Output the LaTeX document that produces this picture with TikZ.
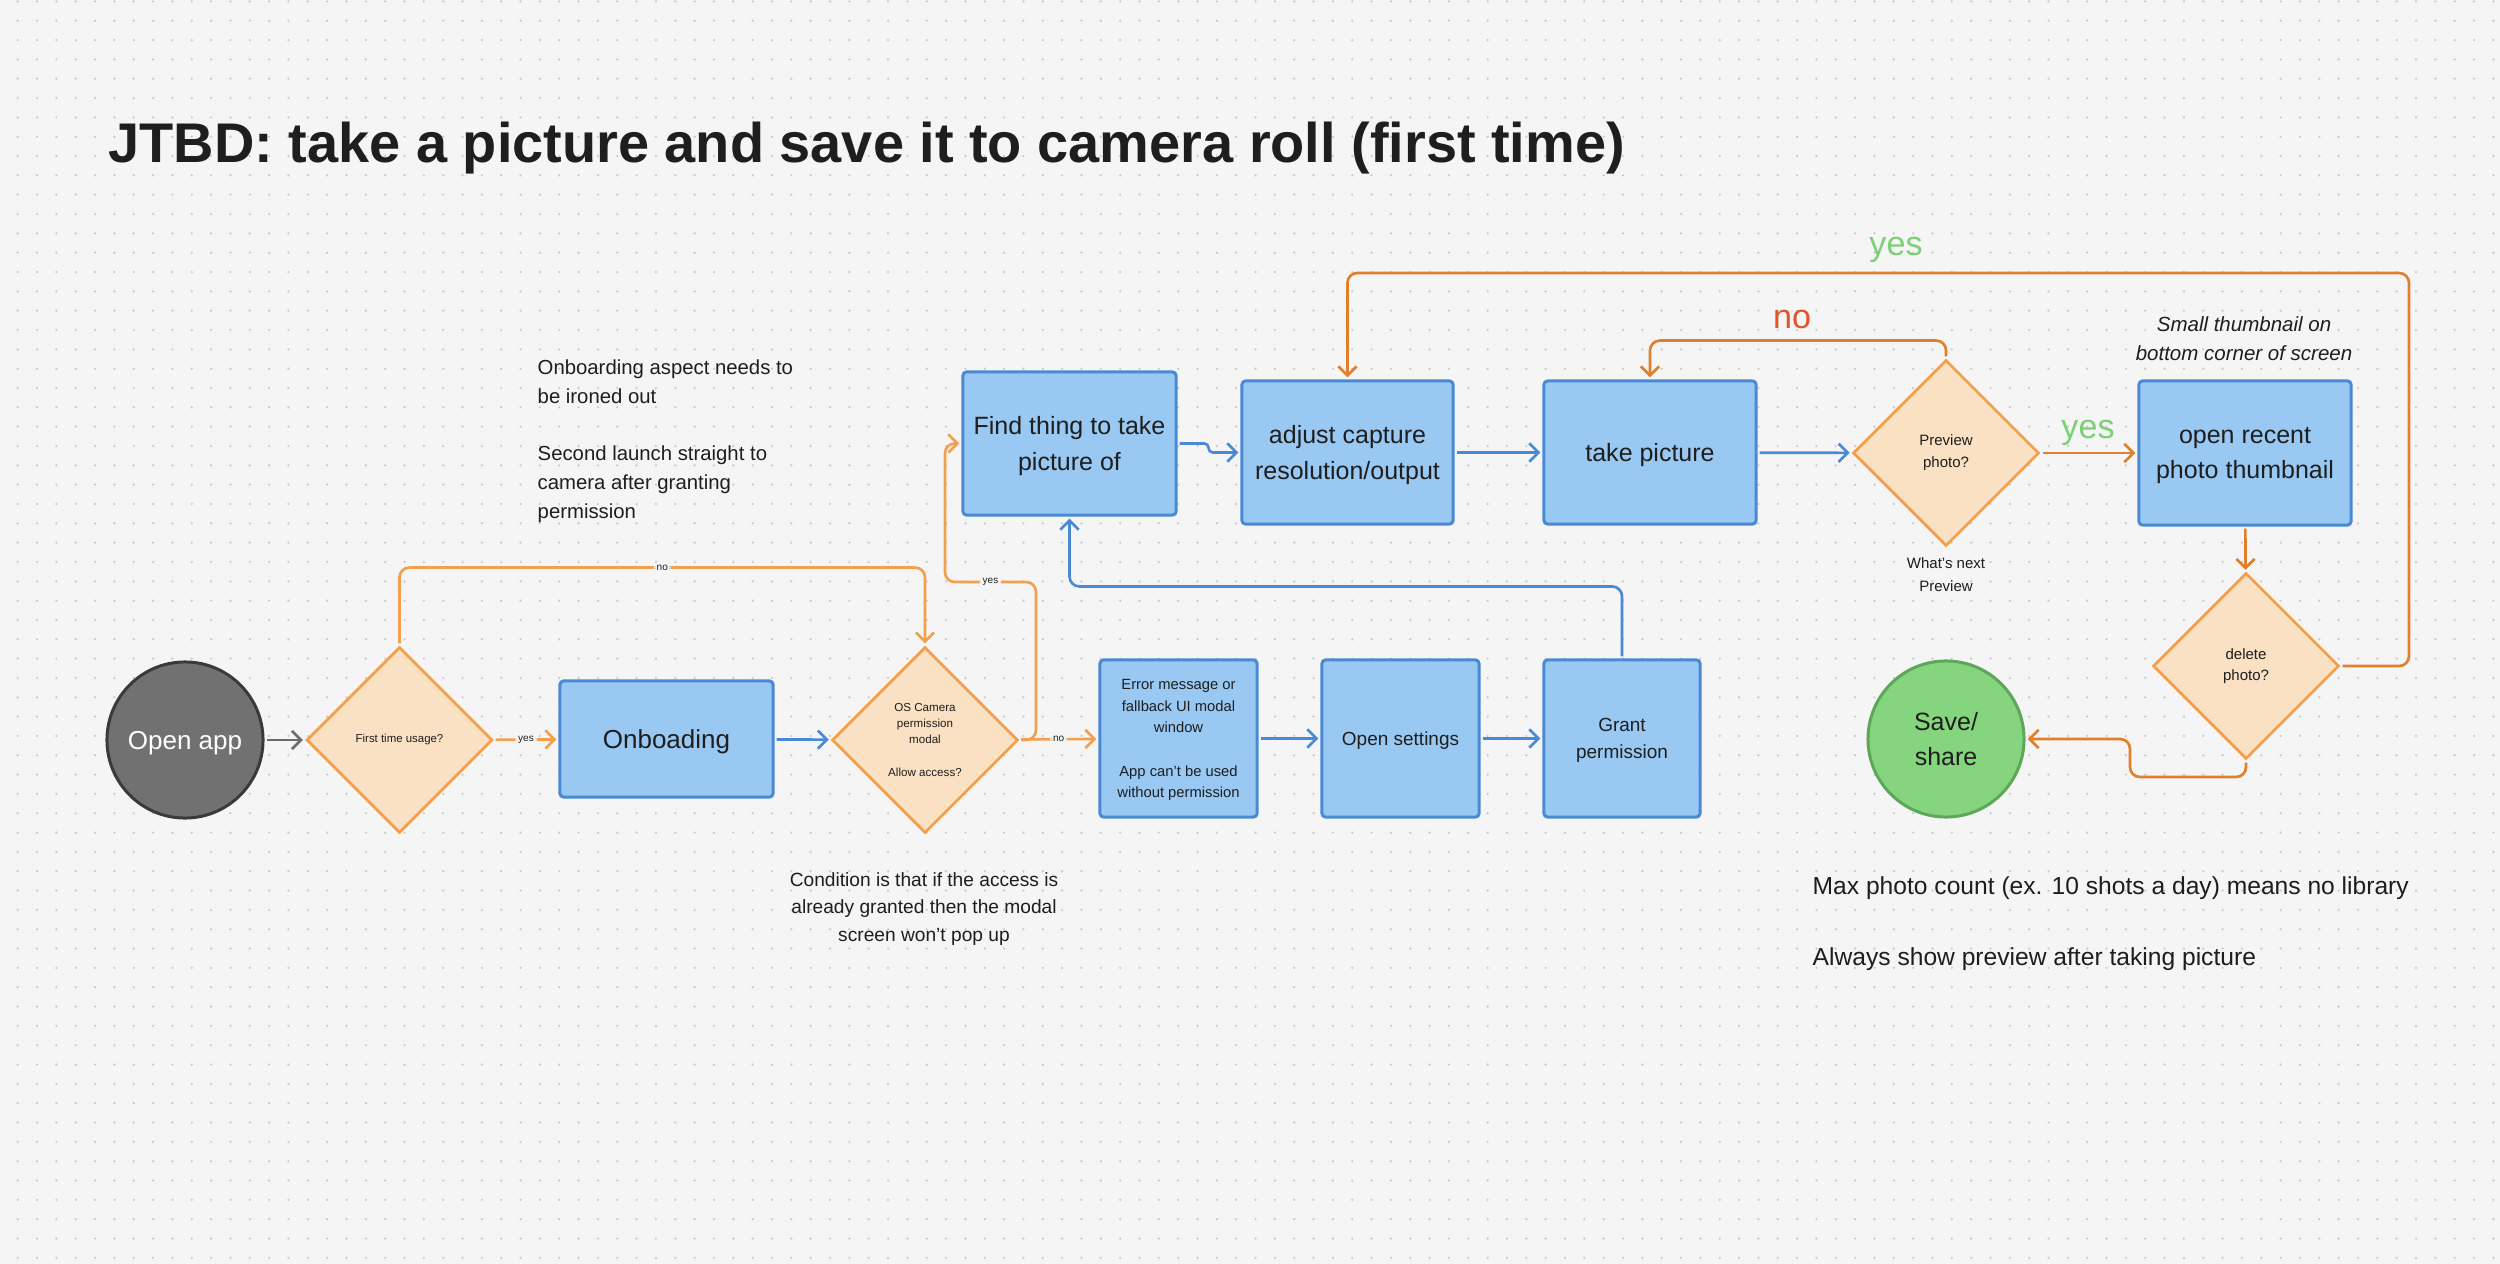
\documentclass[tikz,border=0pt]{standalone}
\usepackage{fontspec}
\setmainfont{Liberation Sans}
\usetikzlibrary{shapes.geometric,arrows.meta}
\definecolor{bg}{HTML}{F5F5F5}
\definecolor{dotc}{HTML}{C9C9C9}
\definecolor{txt}{HTML}{1E1E1E}
\definecolor{boxfill}{HTML}{99C9F3}
\definecolor{boxline}{HTML}{4A8AD4}
\definecolor{dfill}{HTML}{FBE1C4}
\definecolor{dline}{HTML}{F2A04E}
\definecolor{oL}{HTML}{F2A04E}
\definecolor{oD}{HTML}{E07F2C}
\definecolor{nored}{HTML}{E0552B}
\definecolor{yesgreen}{HTML}{7DCF78}
\definecolor{savefill}{HTML}{85D47E}
\definecolor{saveline}{HTML}{5EA659}
\definecolor{appfill}{HTML}{717171}
\definecolor{appline}{HTML}{3A3A3A}
\definecolor{gline}{HTML}{6B6B6B}
\tikzset{
  bluebox/.style={rectangle, draw=boxline, fill=boxfill, line width=0.85pt, rounded corners=1pt, align=center, inner sep=0pt, text=txt, text depth=0pt},
  decision/.style={diamond, aspect=1, draw=dline, fill=dfill, line width=0.8pt, minimum width=1.86cm, minimum height=1.86cm, inner sep=0pt, align=center, text=txt},
  conn/.style={line width=0.75pt, -{Straight Barb[length=2.6pt,width=5.2pt]}, rounded corners=2.8pt, shorten >=0.6pt, shorten <=0.6pt},
  smalllab/.style={fill=bg, inner sep=0.8pt, text=txt, font=\fontsize{2.85pt}{3.4pt}\selectfont},
  biglab/.style={inner sep=0pt, font=\fontsize{9.7pt}{11pt}\selectfont},
  note/.style={inner sep=0pt, text=txt},
  bigtext/.style={font=\fontsize{7.11pt}{10.1pt}\selectfont}
}
\begin{document}
\begin{tikzpicture}[x=0.01cm,y=-0.01cm]
\useasboundingbox (0,0) rectangle (2500,1264);
\fill[bg] (0,0) rectangle (2500,1264);
\foreach \r in {0,...,65} {
  \draw[dotc, line width=0.7pt, line cap=round, dash pattern=on 0pt off 0.1933cm] (17.7,{1.4+\r*19.33}) -- (2500,{1.4+\r*19.33});
}
% title
\node[anchor=base west, inner sep=0pt, text=txt, font=\fontsize{15.9pt}{18pt}\selectfont\bfseries] (title) at (108,163) {JTBD: take a picture and save it to camera roll (first time)};
% notes
\node[note, anchor=west, align=left, font=\fontsize{5.78pt}{8.25pt}\selectfont] (n1) at (537,381.5) {Onboarding aspect needs to\\be ironed out};
\node[note, anchor=west, align=left, font=\fontsize{5.78pt}{8.25pt}\selectfont] (n2) at (537,484) {Second launch straight to\\camera after granting\\permission};
\node[note, align=center, font=\fontsize{5.45pt}{7.7pt}\selectfont] (n3) at (924,909) {Condition is that if the access is\\already granted then the modal\\screen won’t pop up};
\node[note, align=center, font=\fontsize{4.27pt}{6.5pt}\selectfont] (n4) at (1946,574.5) {What’s next\\Preview};
\node[note, align=center, font=\fontsize{5.83pt}{8.25pt}\selectfont\itshape] (n5) at (2244,338.5) {Small thumbnail on\\bottom corner of screen};
\node[note, anchor=west, font=\fontsize{7.0pt}{8pt}\selectfont] (n6) at (1812,888) {Max photo count (ex. 10 shots a day) means no library};
\node[note, anchor=west, font=\fontsize{7.0pt}{8pt}\selectfont] (n7) at (1812,959) {Always show preview after taking picture};
% nodes
\node[circle, draw=appline, fill=appfill, line width=0.85pt, minimum size=1.56cm, inner sep=0pt, text=white, text depth=0pt, font=\fontsize{7.4pt}{9pt}\selectfont] (openapp) at (185,740) {Open app};
\node[decision, font=\fontsize{3.25pt}{4.5pt}\selectfont] (q1) at (399.5,740) {First time usage?};
\node[bluebox, minimum width=2.13cm, minimum height=1.16cm, font=\fontsize{7.4pt}{9pt}\selectfont] (onb) at (666.5,739) {Onboading};
\node[decision, font=\fontsize{3.3pt}{4.64pt}\selectfont] (q2) at (925,740) {OS Camera\\permission\\modal\\[4.64pt]Allow access?};
\node[bluebox, bigtext, minimum width=2.13cm, minimum height=1.43cm] (find) at (1069.5,443.5) {Find thing to take\\picture of};
\node[bluebox, bigtext, minimum width=2.11cm, minimum height=1.43cm] (adjust) at (1347.5,452.5) {adjust capture\\resolution/output};
\node[bluebox, bigtext, minimum width=2.12cm, minimum height=1.43cm] (take) at (1650,452.5) {take picture};
\node[decision, font=\fontsize{4.27pt}{6.26pt}\selectfont] (preview) at (1946,453) {Preview\\photo?};
\node[bluebox, bigtext, minimum width=2.12cm, minimum height=1.44cm] (recent) at (2245,453) {open recent\\photo thumbnail};
\node[decision, font=\fontsize{4.27pt}{6.0pt}\selectfont] (delete) at (2246,666) {delete\\photo?};
\node[circle, draw=saveline, fill=savefill, line width=0.85pt, minimum size=1.56cm, inner sep=0pt, align=center, text=txt, font=\fontsize{7.11pt}{10.2pt}\selectfont] (save) at (1946,739) {Save/\\share};
\node[bluebox, minimum width=1.57cm, minimum height=1.57cm, font=\fontsize{4.2pt}{6.17pt}\selectfont] (error) at (1178.5,738.5) {Error message or\\fallback UI modal\\window\\[6.17pt]App can’t be used\\without permission};
\node[bluebox, minimum width=1.57cm, minimum height=1.57cm, font=\fontsize{5.4pt}{7.7pt}\selectfont] (settings) at (1400.5,738.5) {Open settings};
\node[bluebox, minimum width=1.56cm, minimum height=1.57cm, font=\fontsize{5.4pt}{7.7pt}\selectfont] (grant) at (1622,738.5) {Grant\\permission};
% helper coordinates
\coordinate (y1) at (1036,582);
\coordinate (y2) at (945,582);
\coordinate (c1) at (2409,273);
\coordinate (c2) at (2130,777);
% connectors
\draw[conn, gline] (openapp) -- (q1);
\draw[conn, oL] (q1) -- node[smalllab]{yes} (onb);
\draw[conn, oL] (q1.north) -- ++(0,-78) -| node[smalllab, pos=0.25]{no} (q2.north);
\draw[conn, boxline] (onb) -- (q2);
\draw[conn, oL] (q2.east) -| (y1) -- node[smalllab]{yes} (y2) |- (find.west);
\draw[conn, oL] (q2) -- node[smalllab]{no} (error);
\draw[conn, boxline] (error) -- (settings);
\draw[conn, boxline] (settings) -- (grant);
\draw[conn, boxline] (grant.north) -- ++(0,-72) -| (find.south);
\draw[conn, boxline, rounded corners=1.2pt] (find.east) -- ++(31,0) |- (adjust.west);
\draw[conn, boxline] (adjust) -- (take);
\draw[conn, boxline] (take) -- (preview);
\draw[conn, oD] (preview.north) -- ++(0,-18) -| (take.north);
\draw[conn, oD] (preview) -- (recent);
\draw[conn, oD] (recent) -- (delete);
\draw[conn, oD] (delete.east) -| (c1) -| (adjust.north);
\draw[conn, oD] (delete.south) |- (c2) |- (save.east);
% big labels
\node[biglab, text=nored] (lno) at (1792,319) {no};
\node[biglab, text=yesgreen] (lyes1) at (1896,250) {yes};
\node[biglab, text=yesgreen] (lyes2) at (2088,433) {yes};
\end{tikzpicture}
\end{document}
